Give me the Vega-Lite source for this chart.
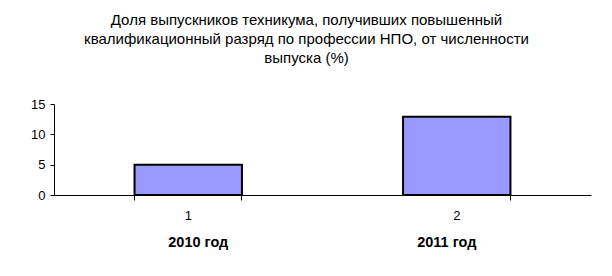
{
  "$schema": "https://vega.github.io/schema/vega-lite/v6.json",
  "width": 537,
  "height": 91,
  "autosize": {"type": "none"},
  "padding": {"left": 54, "top": 104, "right": 21, "bottom": 81},
  "background": "white",
  "title": {
    "text": ["Доля выпускников техникума, получивших повышенный", "квалификационный разряд по профессии НПО, от численности", "выпуска (%)"],
    "font": "Liberation Sans",
    "fontSize": 15,
    "fontWeight": "normal",
    "color": "black",
    "lineHeight": 19,
    "anchor": "middle",
    "dx": -16,
    "offset": 32
  },
  "data": {
    "values": [
      {"n": "1", "year": "2010 год", "value": 5},
      {"n": "2", "year": "2011 год", "value": 12.9}
    ]
  },
  "config": {
    "view": {"stroke": null},
    "axis": {"labelFont": "Liberation Sans", "labelColor": "black", "domainColor": "black", "tickColor": "black", "grid": false, "title": null, "labelOverlap": false}
  },
  "encoding": {
    "y": {"field": "value", "type": "quantitative", "scale": {"domain": [0, 15], "nice": false},
      "axis": {"values": [0, 5, 10, 15], "labelOverlap": false, "labelFlush": false, "labelFontSize": 13, "tickSize": 4, "labelPadding": 5, "domainWidth": 1}}
  },
  "resolve": {"axis": {"x": "independent"}},
  "layer": [
    {
      "mark": {"type": "bar", "fill": "#9999ff", "stroke": "black", "strokeWidth": 2},
      "encoding": {
        "x": {"field": "n", "type": "nominal", "scale": {"paddingInner": 0.6, "paddingOuter": 0.3},
          "axis": {"orient": "bottom", "labelAngle": 0, "labelFontSize": 13, "ticks": false, "labelPadding": 14, "domainWidth": 1}}
      }
    },
    {
      "mark": {"type": "bar", "opacity": 0},
      "encoding": {
        "x": {"field": "n", "type": "nominal",
          "axis": {"orient": "bottom", "labelAngle": 0, "labelFontSize": 14.5, "labelFontWeight": "bold", "ticks": false, "domain": false, "labelPadding": 40,
            "labelExpr": "datum.value == '1' ? '2010 год' : '2011 год'",
            "labelOffset": {"condition": {"test": "datum.value == '1'", "value": 10}, "value": -10}}}
      }
    },
    {
      "mark": {"type": "bar", "opacity": 0},
      "encoding": {
        "x": {"field": "n", "type": "nominal",
          "axis": {"orient": "bottom", "labels": false, "domain": false, "ticks": true, "tickSize": 5, "tickWidth": 1, "bandPosition": 1, "tickExtra": true}}
      }
    }
  ]
}
